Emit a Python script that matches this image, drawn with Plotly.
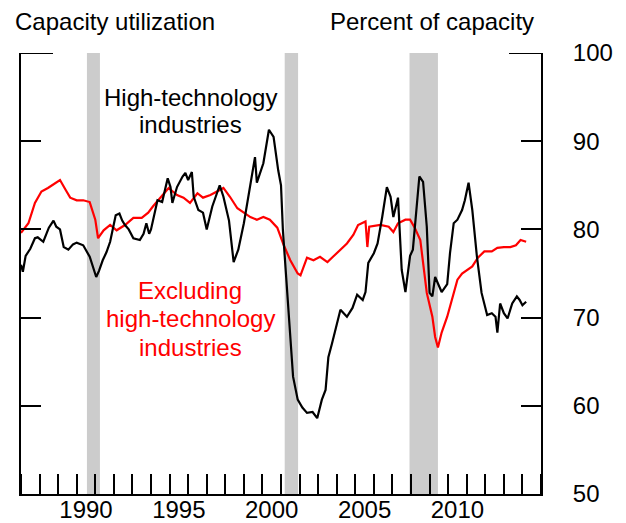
import plotly.graph_objects as go

# ---- data ----
hitech_t = [1987.0, 1987.1, 1987.25, 1987.5, 1987.75, 1987.9, 1988.2, 1988.5, 1988.75, 1988.9,
            1989.1, 1989.3, 1989.55, 1989.8, 1990.0, 1990.35, 1990.7, 1990.85, 1991.05, 1991.2,
            1991.4, 1991.6, 1991.8, 1992.1, 1992.3, 1992.45, 1992.6, 1992.8, 1993.05, 1993.4,
            1993.6, 1993.75, 1993.9, 1994.0, 1994.2, 1994.35, 1994.6, 1994.9, 1995.05, 1995.15,
            1995.4, 1995.7, 1995.85, 1996.0, 1996.2, 1996.3, 1996.55, 1996.8, 1997.0, 1997.3,
            1997.55, 1997.7, 1997.9, 1998.2, 1998.45, 1998.7, 1999.0, 1999.35, 1999.6, 1999.7,
            2000.05, 2000.35, 2000.6, 2000.85, 2001.0, 2001.1, 2001.33, 2001.5, 2001.65, 2001.9,
            2002.15, 2002.4, 2002.7, 2002.95, 2003.2, 2003.4, 2003.55, 2003.75, 2003.95, 2004.2,
            2004.55, 2004.85, 2005.1, 2005.4, 2005.55, 2005.7, 2006.0, 2006.2, 2006.45, 2006.7,
            2006.9, 2007.05, 2007.3, 2007.5, 2007.7, 2007.95, 2008.1, 2008.3, 2008.45, 2008.65,
            2008.85, 2009.0, 2009.15, 2009.3, 2009.5, 2009.65, 2009.95, 2010.1, 2010.3, 2010.5,
            2010.75, 2010.9, 2011.1, 2011.3, 2011.55, 2011.8, 2012.1, 2012.35, 2012.55, 2012.65,
            2012.8, 2013.0, 2013.2, 2013.45, 2013.7, 2013.85, 2014.0, 2014.2]
hitech_v = [76.0, 75.2, 77.0, 77.8, 79.0, 79.1, 78.6, 80.2, 81.0, 80.3,
            80.0, 78.0, 77.7, 78.3, 78.5, 78.2, 76.9, 75.8, 74.6, 75.3,
            76.5, 77.4, 78.6, 81.6, 81.8, 81.0, 80.5, 80.0, 79.0, 78.8,
            79.5, 80.7, 79.5, 80.0, 82.0, 83.3, 83.1, 85.8, 84.8, 83.0,
            84.8, 86.0, 86.4, 85.6, 86.5, 83.7, 82.2, 81.9, 80.0, 82.6,
            84.1, 85.0, 83.7, 81.0, 76.3, 77.7, 80.7, 85.3, 88.2, 85.3,
            87.5, 91.3, 90.5, 86.7, 85.0, 80.0, 72.8, 67.1, 63.3, 60.7,
            59.8, 59.2, 59.3, 58.6, 60.7, 61.8, 65.5, 67.1, 68.9, 70.9,
            70.1, 71.1, 72.6, 72.0, 72.9, 76.2, 77.3, 78.4, 81.4, 84.8,
            83.7, 81.4, 83.6, 75.4, 72.9, 77.0, 77.7, 82.2, 86.0, 85.4,
            80.3, 72.8, 72.4, 74.6, 73.5, 72.9, 73.8, 77.3, 80.7, 81.1,
            82.2, 83.3, 85.3, 82.2, 76.9, 72.8, 70.3, 70.5, 70.1, 68.3,
            71.6, 70.5, 69.9, 71.6, 72.4, 72.0, 71.4, 71.8]

excl_t = [1987.0, 1987.4, 1987.75, 1988.1, 1988.45, 1988.85, 1989.1, 1989.4, 1989.65, 1990.0,
          1990.35, 1990.7, 1991.0, 1991.15, 1991.45, 1991.8, 1992.15, 1992.6, 1993.05, 1993.5,
          1993.85, 1994.1, 1994.5, 1994.95, 1995.4, 1995.75, 1996.1, 1996.5, 1996.8, 1997.2,
          1997.55, 1997.9, 1998.25, 1998.65, 1999.0, 1999.35, 1999.7, 2000.05, 2000.4, 2000.8,
          2001.15, 2001.5, 2001.9, 2002.05, 2002.4, 2002.75, 2003.1, 2003.5, 2003.8, 2004.2,
          2004.55, 2004.9, 2005.15, 2005.55, 2005.65, 2005.75, 2006.35, 2006.8, 2007.05, 2007.3,
          2007.7, 2007.95, 2008.2, 2008.5, 2008.7, 2008.85, 2009.15, 2009.3, 2009.45, 2009.65,
          2009.95, 2010.2, 2010.5, 2010.75, 2011.0, 2011.3, 2011.6, 2011.95, 2012.35, 2012.65,
          2013.0, 2013.35, 2013.65, 2013.9, 2014.2]
excl_v = [79.6, 80.7, 83.0, 84.3, 84.7, 85.3, 85.6, 84.5, 83.6, 83.3,
          83.3, 83.1, 81.1, 79.0, 79.9, 80.5, 79.9, 80.5, 81.3, 81.3,
          81.9, 82.6, 83.6, 84.7, 83.9, 83.6, 83.0, 84.1, 83.6, 83.9,
          84.3, 84.7, 83.7, 82.4, 81.9, 81.4, 81.1, 81.4, 81.1, 80.2,
          78.2, 76.5, 75.0, 74.8, 76.8, 76.5, 76.9, 76.3, 76.9, 77.7,
          78.4, 79.4, 80.5, 80.9, 78.0, 80.3, 80.5, 80.3, 79.7, 80.7,
          81.1, 81.1, 80.2, 78.8, 75.4, 72.8, 70.1, 67.8, 66.6, 68.3,
          70.1, 72.0, 74.3, 75.0, 75.4, 75.8, 76.8, 77.5, 77.5, 77.9,
          78.0, 78.0, 78.2, 78.8, 78.6]

recessions = [(1990.55, 1991.25), (2001.2, 2001.92), (2007.92, 2009.45)]

year_ticks = list(range(1987, 2016))
label_years = [1990, 1995, 2000, 2005, 2010]
y_ticks = [50, 60, 70, 80, 90, 100]

FONT = "Liberation Sans, Arial, sans-serif"
FS = 24
PW, PH = 520, 441  # plot area size in px

fig = go.Figure()

for a, b in recessions:
    fig.add_shape(type="rect", xref="x", yref="paper", x0=a, x1=b, y0=0, y1=1,
                  fillcolor="#CCCCCC", line_width=0, layer="below")

fig.add_trace(go.Scatter(x=excl_t, y=excl_v, mode="lines",
                         line=dict(color="#FF0000", width=2.2), showlegend=False))
fig.add_trace(go.Scatter(x=hitech_t, y=hitech_v, mode="lines",
                         line=dict(color="#000000", width=2.2), showlegend=False))

# longer top ticks at 100 on both sides
fig.add_shape(type="line", xref="paper", yref="y", x0=0, x1=32 / PW, y0=100, y1=100,
              line=dict(color="black", width=2))
fig.add_shape(type="line", xref="paper", yref="y", x0=1 - 32 / PW, x1=1, y0=100, y1=100,
              line=dict(color="black", width=2))

fig.update_layout(
    width=626, height=523,
    margin=dict(l=21, r=85, t=53, b=29),
    paper_bgcolor="white", plot_bgcolor="white",
    font=dict(family=FONT, size=FS, color="black"),
    xaxis=dict(range=[1987, 2015], showgrid=False, zeroline=False, automargin=False,
               showline=True, linecolor="black", linewidth=2,
               tickvals=[y + 0.5 for y in label_years],
               ticktext=[str(y) for y in label_years],
               ticks="", tickfont=dict(size=FS), ticklabelstandoff=-7,
               minor=dict(tickvals=year_ticks, ticks="inside", ticklen=20,
                          tickwidth=2, tickcolor="black", showgrid=False)),
    yaxis=dict(range=[50, 100], side="right", showgrid=False, zeroline=False, automargin=False,
               showline=True, linecolor="black", linewidth=2, mirror="ticks",
               tickvals=y_ticks, ticktext=[str(v) for v in y_ticks],
               ticks="inside", ticklen=20, tickwidth=2, tickcolor="black",
               tickfont=dict(size=FS), ticklabelstandoff=25),
)

annots = [
    dict(text="Capacity utilization", xref="paper", yref="paper", x=(13 - 21) / PW, y=1 + 32 / PH,
         xanchor="left", yanchor="middle", color="black"),
    dict(text="Percent of capacity", xref="paper", yref="paper", x=(536 - 21) / PW, y=1 + 32 / PH,
         xanchor="right", yanchor="middle", color="black"),
    dict(text="High-technology", xref="x", yref="y", x=1996.1, y=94.95,
         xanchor="center", yanchor="middle", color="black"),
    dict(text="industries", xref="x", yref="y", x=1996.1, y=91.85,
         xanchor="center", yanchor="middle", color="black"),
    dict(text="Excluding", xref="x", yref="y", x=1996.1, y=73.05,
         xanchor="center", yanchor="middle", color="#FF0000"),
    dict(text="high-technology", xref="x", yref="y", x=1996.1, y=69.85,
         xanchor="center", yanchor="middle", color="#FF0000"),
    dict(text="industries", xref="x", yref="y", x=1996.1, y=66.65,
         xanchor="center", yanchor="middle", color="#FF0000"),
]
for a in annots:
    col = a.pop("color")
    fig.add_annotation(showarrow=False, font=dict(family=FONT, size=FS, color=col), **a)

fig.write_html("out.html", config={"displayModeBar": False},
               post_script="document.body.style.margin='0';document.body.style.overflow='hidden';")
